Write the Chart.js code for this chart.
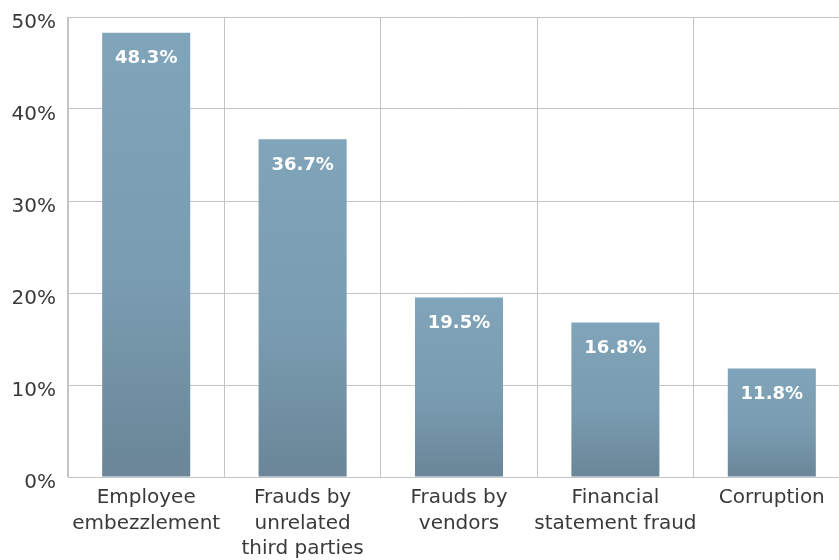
<!DOCTYPE html>
<html>
<head>
<meta charset="utf-8">
<script src="https://cdn.jsdelivr.net/npm/chart.js@4/dist/chart.umd.min.js"></script>
<style>
  html, body { margin: 0; padding: 0; background: #fff; overflow: hidden; }
  #wrap { width: 850px; height: 567px; margin-top: -7px; }
</style>
</head>
<body>
<div id="wrap"><canvas id="chart"></canvas></div>
<script>
const categories = [
    ['Employee', 'embezzlement'],
    ['Frauds by', 'unrelated', 'third parties'],
    ['Frauds by', 'vendors'],
    ['Financial', 'statement fraud'],
    ['Corruption']
];
const shares = [48.3, 36.7, 19.5, 16.8, 11.8];
const yTicks = [0, 10, 20, 30, 40, 50];

const FONT = "'DejaVu Sans', 'Liberation Sans', sans-serif";

// white value labels inside the top of each bar
const valueLabels = {
    id: 'valueLabels',
    afterDatasetsDraw(chart) {
        const ctx = chart.ctx;
        const meta = chart.getDatasetMeta(0);
        ctx.save();
        ctx.fillStyle = '#ffffff';
        ctx.font = 'bold 18px ' + FONT;
        ctx.textAlign = 'center';
        ctx.textBaseline = 'middle';
        meta.data.forEach((bar, i) => {
            ctx.fillText(shares[i].toFixed(1) + '%', bar.x, bar.y + 26);
        });
        ctx.restore();
    }
};

function barFill(context) {
    const chart = context.chart;
    if (!chart.chartArea) return '#7a9db2';
    const y = chart.scales.y;
    const top = y.getPixelForValue(context.raw);
    const bottom = y.getPixelForValue(0);
    const g = chart.ctx.createLinearGradient(0, top, 0, bottom);
    g.addColorStop(0, '#80a4b9');
    g.addColorStop(0.55, '#7a9cb1');
    g.addColorStop(1, '#6a8698');
    return g;
}

new Chart(document.getElementById('chart'), {
    type: 'bar',
    data: {
        labels: categories,
        datasets: [{
            data: shares,
            backgroundColor: barFill,
            borderWidth: 0,
            barPercentage: 0.563,
            categoryPercentage: 1
        }]
    },
    options: {
        responsive: true,
        maintainAspectRatio: false,
        animation: false,
        layout: { padding: { top: 10, right: 0, left: 0, bottom: 0 } },
        plugins: {
            legend: { display: false },
            tooltip: { enabled: false }
        },
        scales: {
            x: {
                offset: true,
                grid: { color: '#c4c4c4', lineWidth: 1, offset: true, drawTicks: false },
                border: { color: '#c4c4c4' },
                ticks: {
                    color: '#3a3a3a',
                    font: { family: FONT, size: 20, lineHeight: 1.28 },
                    padding: 8,
                    maxRotation: 0,
                    autoSkip: false
                },
                afterFit(scale) { scale.height = 83; }
            },
            y: {
                min: 0,
                max: 50,
                afterBuildTicks(scale) { scale.ticks = yTicks.map(v => ({ value: v })); },
                grid: { color: '#c4c4c4', lineWidth: 1, drawTicks: false },
                border: { color: '#c4c4c4' },
                ticks: {
                    color: '#3a3a3a',
                    font: { family: FONT, size: 20 },
                    padding: 12,
                    labelOffset: 6,
                    callback: v => v + '%'
                },
                afterFit(scale) { scale.width = 68; }
            }
        }
    },
    plugins: [valueLabels]
});
</script>
</body>
</html>
